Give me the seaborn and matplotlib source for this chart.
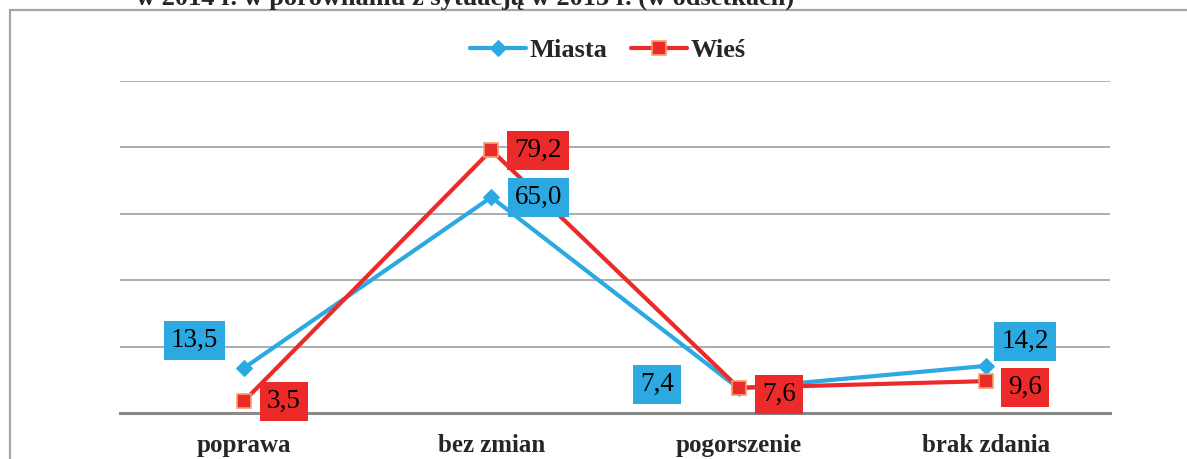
"""Ocena sytuacji: miasta vs wieś"""
import matplotlib
matplotlib.use('Agg')
import matplotlib.pyplot as plt
import seaborn as sns
import pandas as pd
from matplotlib.patches import Rectangle

# dane
kategorie = ['poprawa', 'bez zmian', 'pogorszenie', 'brak zdania']
miasta = [13.5, 65.0, 7.4, 14.2]
wies = [3.5, 79.2, 7.6, 9.6]
tytul = 'w 2014 r. w porównaniu z sytuacją w 2013 r. (w odsetkach)'

# przesunięcia etykiet (piksele)
off_miasta = [(-49, 28), (47, 0), (-82, 4), (39, 24)]
off_wies = [(40, 0), (47, 0), (40, -7), (39, -6)]

NIEBIESKI = '#2DA9E1'
CZERWONY = '#ED2A2A'

sns.set_style('white')
plt.rcParams['font.family'] = ['Liberation Serif', 'DejaVu Serif']

fig = plt.figure(figsize=(11.87, 4.59), dpi=100)
ax = fig.add_axes([120 / 1187, 1 - 413 / 459, 990 / 1187, 332 / 459])

df = pd.DataFrame({'kat': kategorie, 'Miasta': miasta, 'Wieś': wies})

sns.lineplot(data=df, x='kat', y='Miasta', ax=ax, color=NIEBIESKI, linewidth=3,
             marker='D', markersize=8, markeredgecolor=NIEBIESKI, label='Miasta', zorder=3)
sns.lineplot(data=df, x='kat', y='Wieś', ax=ax, color=CZERWONY, linewidth=3,
             marker='s', markersize=10, markeredgecolor='#F2A06A', markeredgewidth=1.2,
             label='Wieś', zorder=4)

ax.set_xlim(-0.5, len(kategorie) - 0.5)
ax.set_ylim(0, 100)
ax.set_yticks(range(0, 101, 20))
ax.set_yticklabels([])
ax.grid(axis='y', color='#A6A6A6', linewidth=1.3)
ax.set_axisbelow(True)
for s in ['top', 'right', 'left']:
    ax.spines[s].set_visible(False)
ax.spines['bottom'].set_color('#898989')
ax.spines['bottom'].set_linewidth(2.2)
ax.tick_params(axis='both', length=0)
ax.tick_params(axis='x', labelsize=18, pad=15)
for t in ax.get_xticklabels():
    t.set_fontweight('bold')
ax.set_xlabel('')
ax.set_ylabel('')

# etykiety danych
for i, (v, off) in enumerate(zip(miasta, off_miasta)):
    ax.annotate(f'{v:.1f}'.replace('.', ','), (i, v), xytext=off, textcoords='offset pixels',
                ha='center', va='center', fontsize=19.5, color='black', zorder=5,
                bbox=dict(boxstyle='square,pad=0.26', fc=NIEBIESKI, ec='none'))
for i, (v, off) in enumerate(zip(wies, off_wies)):
    ax.annotate(f'{v:.1f}'.replace('.', ','), (i, v), xytext=off, textcoords='offset pixels',
                ha='center', va='center', fontsize=19.5, color='black', zorder=5,
                bbox=dict(boxstyle='square,pad=0.26', fc=CZERWONY, ec='none'))

# legenda
ax.legend(loc='center', bbox_to_anchor=(608 / 1187, 1 - 50 / 459),
          bbox_transform=fig.transFigure, ncol=2, frameon=False,
          prop={'weight': 'bold', 'size': 19}, handlelength=2.1,
          handletextpad=0.15, columnspacing=0.9)

# ramka i tytuł (ucięty)
fig.patches.append(Rectangle((10 / 1187, -0.1), 1.2, 1 - 10 / 459 + 0.1,
                             transform=fig.transFigure, fill=False,
                             ec='#A6A6A6', lw=1.6, zorder=0))
fig.text(465 / 1187, 1 - 5 / 459, tytul, ha='center', va='baseline',
         fontsize=19, fontweight='bold')

fig.savefig('out.png', dpi=100)
